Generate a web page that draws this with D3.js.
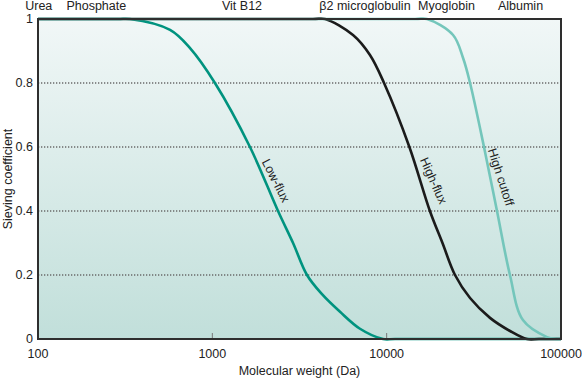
<!DOCTYPE html>
<html>
  <head>
    <meta charset="utf-8">
    <script src="https://d3js.org/d3.v7.min.js"></script>
    <style>
      body { margin: 0; background: #fff; }
      text { font-family: "Liberation Sans", Arial, sans-serif; fill: #222; }
    </style>
  </head>
  <body>
    <div id="chart"></div>
    <script>
      var width = 582;
      var height = 379;
      var margin = {top: 19, right: 21, bottom: 40, left: 38};

      // molecular weight (Da) / sieving coefficient
      var lowFluxMW = [100, 288, 337, 572, 745, 1035, 1644, 2381, 2904, 3491, 4256, 5400, 7030, 9530, 11170, 100000];
      var lowFluxS  = [1, 1, 1, 0.966, 0.909, 0.8, 0.6, 0.4, 0.3, 0.2, 0.14, 0.085, 0.032, 0, 0, 0];
      var highFluxMW = [100, 3776, 4430, 6410, 8020, 9660, 13500, 17700, 20900, 24660, 30080, 39150, 51000, 63800, 74800, 100000];
      var highFluxS  = [1, 1, 1, 0.95, 0.8875, 0.8, 0.6, 0.4, 0.3, 0.2, 0.128, 0.066, 0.025, 0, 0, 0];
      var highCutMW = [100, 14550, 17030, 24030, 27430, 30080, 36170, 42940, 50950, 60490, 83130, 93550, 100000];
      var highCutS  = [1, 1, 1, 0.95, 0.878, 0.8, 0.6, 0.4, 0.2, 0.059, 0.006, 0, 0];

      var soluteNames = ["Urea", "Phosphate", "Vit B12", "\u03b22 microglobulin", "Myoglobin", "Albumin"];
      var soluteMW = [101, 216, 1480, 7510, 22030, 58600];

      var xTicks = [100, 1000, 10000, 100000];
      var yTicks = [0, 0.2, 0.4, 0.6, 0.8, 1];
      var gridTicks = [0.2, 0.4, 0.6, 0.8];

      var curves = [
        {name: "Low-flux", mw: lowFluxMW, s: lowFluxS, color: "#00937f", lx: 2318, ly: 0.495, angle: 63},
        {name: "High-flux", mw: highFluxMW, s: highFluxS, color: "#1b1b1b", lx: 18600, ly: 0.495, angle: 66},
        {name: "High cutoff", mw: highCutMW, s: highCutS, color: "#74c6bb", lx: 45300, ly: 0.506, angle: 72}
      ];

      var x = d3.scaleLog()
        .domain([100, 100000])
        .range([margin.left, width - margin.right]);
      var y = d3.scaleLinear()
        .domain([0, 1])
        .range([height - margin.bottom, margin.top]);

      var svg = d3.select("#chart")
        .append("svg")
        .attr("width", width)
        .attr("height", height);

      // background gradient
      var grad = svg.append("defs").append("linearGradient")
        .attr("id", "bg")
        .attr("x1", 0).attr("y1", 0).attr("x2", 0).attr("y2", 1);
      grad.append("stop").attr("offset", "0%").attr("stop-color", "#f1f7f7");
      grad.append("stop").attr("offset", "100%").attr("stop-color", "#c1dfda");

      svg.append("rect")
        .attr("x", x(100))
        .attr("y", y(1))
        .attr("width", x(100000) - x(100))
        .attr("height", y(0) - y(1))
        .style("fill", "url(#bg)");

      // dotted gridlines
      svg.selectAll("line.grid")
        .data(gridTicks)
        .enter()
        .append("line")
        .attr("class", "grid")
        .attr("x1", x(100))
        .attr("x2", x(100000))
        .attr("y1", function(d) { return y(d); })
        .attr("y2", function(d) { return y(d); })
        .style("stroke", "#6a6a6a")
        .style("stroke-width", 1.3)
        .style("stroke-dasharray", "1.3,1.7");

      // small ticks on the bottom edge
      svg.selectAll("line.xtick")
        .data([1000, 10000])
        .enter()
        .append("line")
        .attr("class", "xtick")
        .attr("x1", function(d) { return x(d); })
        .attr("x2", function(d) { return x(d); })
        .attr("y1", y(0))
        .attr("y2", y(0) - 6)
        .style("stroke", "#777")
        .style("stroke-width", 1);

      var line = d3.line()
        .x(function(d) { return x(d[0]); })
        .y(function(d) { return y(d[1]); })
        .curve(d3.curveCatmullRom.alpha(0.5));

      curves.forEach(function(c) {
        var pts = c.mw.map(function(m, i) { return [m, c.s[i]]; });
        svg.append("path")
          .attr("d", line(pts))
          .style("fill", "none")
          .style("stroke", c.color)
          .style("stroke-width", 2.6);

        svg.append("text")
          .attr("transform", "translate(" + x(c.lx) + "," + y(c.ly) + ") rotate(" + c.angle + ")")
          .attr("text-anchor", "middle")
          .attr("dy", "0.35em")
          .style("font-size", "12.5px")
          .text(c.name);
      });

      // frame
      svg.append("rect")
        .attr("x", x(100))
        .attr("y", y(1))
        .attr("width", x(100000) - x(100))
        .attr("height", y(0) - y(1))
        .style("fill", "none")
        .style("stroke", "#2e2e2e")
        .style("stroke-width", 2);

      // tick labels
      svg.selectAll("text.ylab")
        .data(yTicks)
        .enter()
        .append("text")
        .attr("class", "ylab")
        .attr("x", margin.left - 5)
        .attr("y", function(d) { return y(d); })
        .attr("dy", "0.35em")
        .attr("text-anchor", "end")
        .style("font-size", "12.5px")
        .text(function(d) { return d; });

      svg.selectAll("text.xlab")
        .data(xTicks)
        .enter()
        .append("text")
        .attr("class", "xlab")
        .attr("x", function(d) { return x(d); })
        .attr("y", y(0) + 19)
        .attr("text-anchor", "middle")
        .style("font-size", "12.5px")
        .text(function(d) { return d; });

      // solute names along the top
      svg.selectAll("text.solute")
        .data(soluteNames)
        .enter()
        .append("text")
        .attr("class", "solute")
        .attr("x", function(d, i) { return x(soluteMW[i]); })
        .attr("y", 10)
        .attr("text-anchor", "middle")
        .style("font-size", "12.5px")
        .text(function(d) { return d; });

      // axis titles
      svg.append("text")
        .attr("x", (x(100) + x(100000)) / 2)
        .attr("y", 375)
        .attr("text-anchor", "middle")
        .style("font-size", "12.5px")
        .text("Molecular weight (Da)");

      svg.append("text")
        .attr("transform", "translate(12," + ((y(0) + y(1)) / 2) + ") rotate(-90)")
        .attr("text-anchor", "middle")
        .style("font-size", "12.5px")
        .text("Sieving coefficient");
    </script>
  </body>
</html>
